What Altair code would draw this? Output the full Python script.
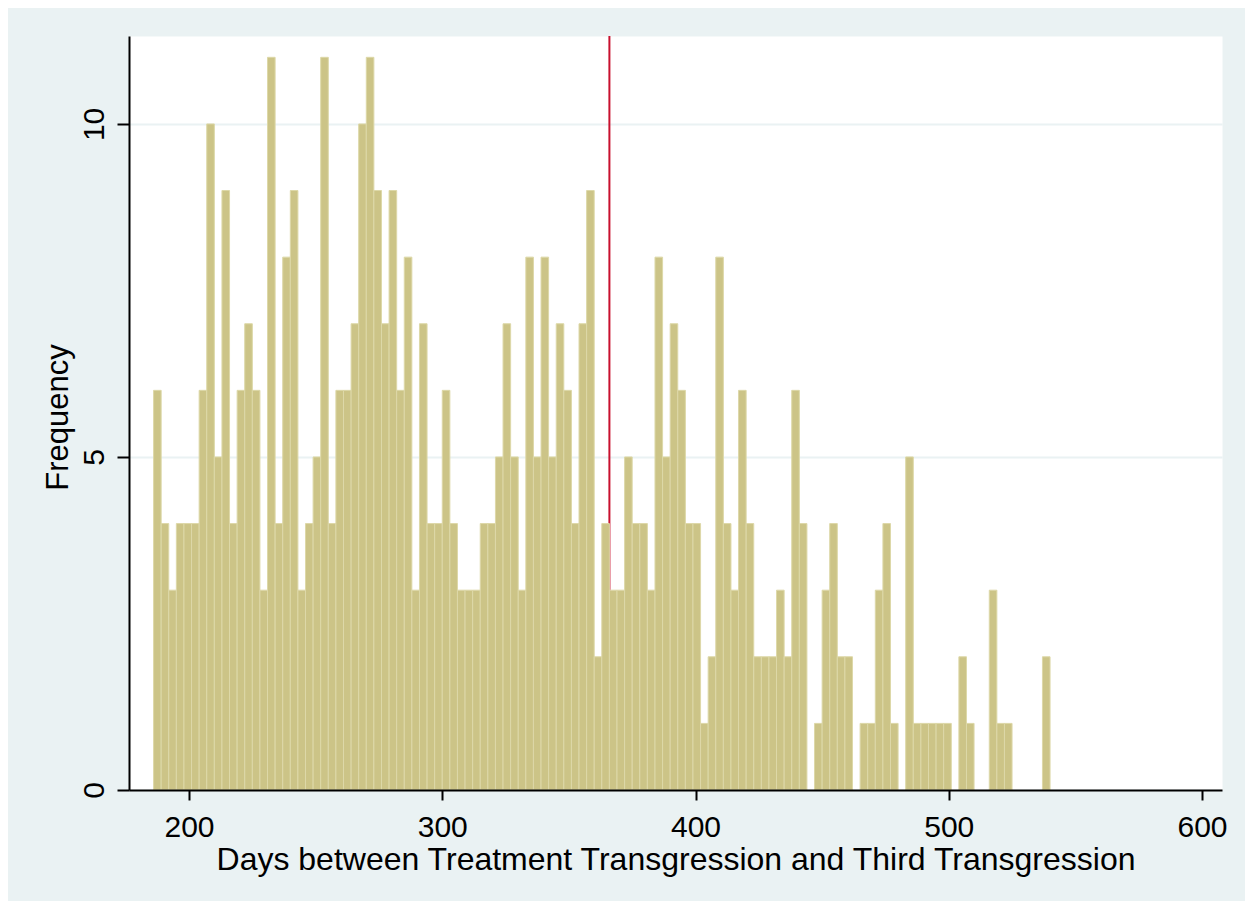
import altair as alt
import pandas as pd

# Histogram of days (bin width 3 days, first bin starting at day 186)
BIN_START = 186
BIN_WIDTH = 3
counts = [
    6, 4, 3, 4, 4, 4, 6, 10, 5, 9, 4, 6, 7, 6, 3, 11, 4, 8, 9, 3,
    4, 5, 11, 4, 6, 6, 7, 10, 11, 9, 7, 9, 6, 8, 3, 7, 4, 4, 6, 4,
    3, 3, 3, 4, 4, 5, 7, 5, 3, 8, 5, 8, 5, 7, 6, 4, 7, 9, 2, 4,
    3, 3, 5, 4, 4, 3, 8, 5, 7, 6, 4, 4, 1, 2, 8, 4, 3, 6, 4, 2,
    2, 2, 3, 2, 6, 4, 0, 1, 3, 4, 2, 2, 0, 1, 1, 3, 4, 1, 0, 5,
    1, 1, 1, 1, 1, 0, 2, 1, 0, 0, 3, 1, 1, 0, 0, 0, 0, 2,
]
REF_DAY = [366]
x_ticks = [200, 300, 400, 500, 600]
y_ticks = [0, 5, 10]

bin_lo = [BIN_START + BIN_WIDTH * i for i in range(len(counts))]
bin_hi = [b + BIN_WIDTH for b in bin_lo]
df = pd.DataFrame({"lo": bin_lo, "hi": bin_hi, "count": counts})
df = df[df["count"] > 0]
ref = pd.DataFrame({"day": REF_DAY})

FONT = "Liberation Sans"
BG = "#EAF2F3"

xscale = alt.Scale(domain=[176.3, 607.9], nice=False, zero=False)
yscale = alt.Scale(domain=[0, 11.32], nice=False)

xaxis = alt.Axis(
    values=x_ticks, title="Days between Treatment Transgression and Third Transgression",
    grid=False, tickSize=10, tickWidth=2, tickColor="black",
    domainColor="black", domainWidth=2, labelFont=FONT, labelFontSize=30,
    labelColor="black", labelBaseline="alphabetic", labelPadding=36,
    titleFont=FONT, titleFontSize=32, titleFontWeight="normal", titleColor="black",
    titleBaseline="alphabetic", titleY=79, zindex=1, labelFlush=False,
)
yaxis = alt.Axis(
    values=y_ticks, title="Frequency", grid=True, gridColor=BG, gridWidth=2,
    tickSize=12, tickWidth=2, tickColor="black", domainColor="black", domainWidth=2,
    labelFont=FONT, labelFontSize=30, labelColor="black", labelAngle=270,
    labelAlign="center", labelBaseline="alphabetic", labelPadding=14,
    titleFont=FONT, titleFontSize=31, titleFontWeight="normal", titleColor="black",
    titleAngle=270, titleBaseline="alphabetic", titleAlign="center",
    titleX=-62, titleY=381, labelFlush=False,
)

rule = alt.Chart(ref).mark_rule(color="#C8102E", strokeWidth=2).encode(
    x=alt.X("day:Q", scale=xscale, axis=xaxis)
)

bars = alt.Chart(df).mark_bar(
    color="#CCC487", stroke="#DDD8A8", strokeWidth=1
).encode(
    x=alt.X("lo:Q", scale=xscale, axis=xaxis),
    x2="hi:Q",
    y=alt.Y("count:Q", scale=yscale, axis=yaxis),
    y2=alt.datum(0),
)

chart = alt.layer(rule, bars).properties(
    width=1093, height=754,
    autosize=alt.AutoSizeParams(type="none"),
    padding={"left": 121, "top": 28, "right": 23, "bottom": 111},
    background=BG,
).configure_view(fill="white", stroke="transparent")

chart.save("out.html", embed_options={"renderer": "svg", "actions": False})
